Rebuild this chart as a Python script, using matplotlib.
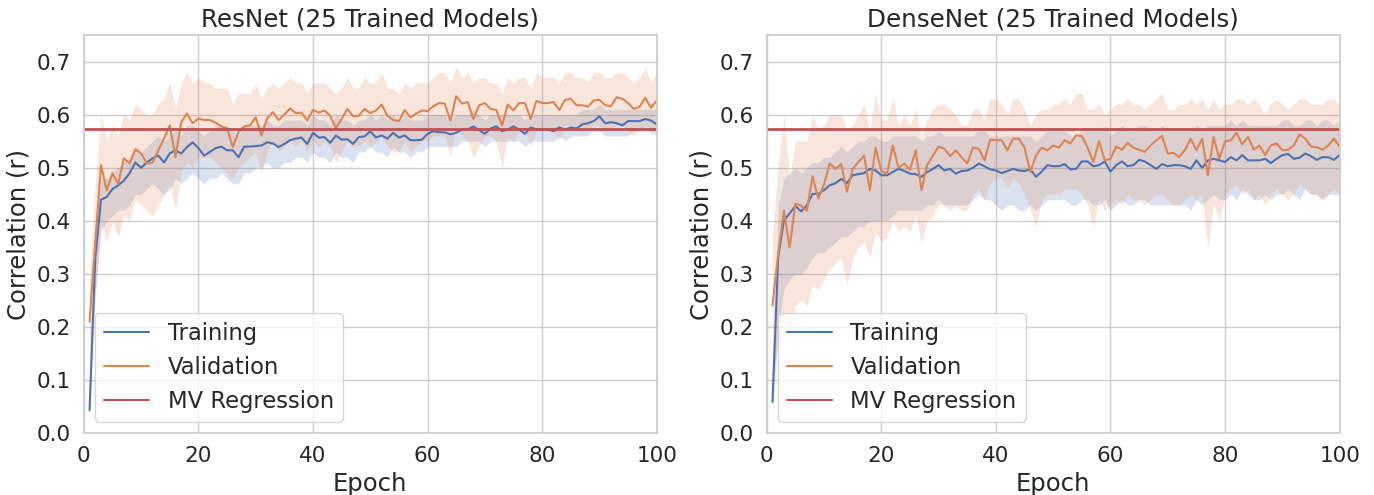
import matplotlib
matplotlib.use('Agg')
import matplotlib.pyplot as plt
import numpy as np
import seaborn as sns

epochs = list(range(1, 101))
mv_regression = 0.574

# ResNet
resnet_train = [0.043, 0.33, 0.44, 0.445, 0.46, 0.467, 0.476, 0.49, 0.51, 0.50,
                0.51, 0.518, 0.523, 0.51, 0.527, 0.533, 0.527, 0.539, 0.548, 0.537,
                0.523, 0.53, 0.537, 0.54, 0.533, 0.533, 0.52, 0.54, 0.54, 0.541,
                0.542, 0.548, 0.546, 0.539, 0.545, 0.552, 0.555, 0.557, 0.545, 0.566,
                0.557, 0.558, 0.547, 0.561, 0.553, 0.554, 0.545, 0.558, 0.559, 0.569,
                0.557, 0.561, 0.555, 0.566, 0.557, 0.561, 0.552, 0.552, 0.553, 0.564,
                0.569, 0.567, 0.567, 0.563, 0.566, 0.572, 0.572, 0.578, 0.571, 0.564,
                0.574, 0.578, 0.569, 0.572, 0.578, 0.572, 0.564, 0.576, 0.572, 0.572,
                0.572, 0.569, 0.576, 0.572, 0.576, 0.574, 0.582, 0.584, 0.588, 0.597,
                0.584, 0.586, 0.584, 0.58, 0.588, 0.588, 0.588, 0.592, 0.589, 0.582]
resnet_train_lo = [0.03, 0.27, 0.38, 0.40, 0.41, 0.42, 0.42, 0.43, 0.45, 0.45,
                   0.46, 0.47, 0.46, 0.45, 0.46, 0.48, 0.47, 0.48, 0.49, 0.48,
                   0.47, 0.48, 0.48, 0.49, 0.48, 0.47, 0.47, 0.49, 0.49, 0.50,
                   0.50, 0.51, 0.50, 0.50, 0.51, 0.51, 0.52, 0.52, 0.51, 0.53,
                   0.52, 0.52, 0.51, 0.53, 0.52, 0.52, 0.51, 0.53, 0.53, 0.54,
                   0.53, 0.53, 0.52, 0.54, 0.53, 0.53, 0.52, 0.53, 0.53, 0.54,
                   0.54, 0.54, 0.54, 0.54, 0.54, 0.55, 0.55, 0.55, 0.55, 0.54,
                   0.55, 0.55, 0.55, 0.55, 0.55, 0.55, 0.54, 0.55, 0.55, 0.55,
                   0.55, 0.55, 0.56, 0.55, 0.56, 0.56, 0.56, 0.56, 0.57, 0.57,
                   0.56, 0.56, 0.56, 0.56, 0.56, 0.57, 0.57, 0.57, 0.57, 0.56]
resnet_train_hi = [0.06, 0.38, 0.48, 0.48, 0.49, 0.50, 0.51, 0.52, 0.54, 0.53,
                   0.54, 0.55, 0.56, 0.55, 0.56, 0.57, 0.56, 0.58, 0.58, 0.57,
                   0.56, 0.57, 0.58, 0.58, 0.57, 0.57, 0.56, 0.58, 0.58, 0.58,
                   0.58, 0.59, 0.58, 0.58, 0.59, 0.59, 0.59, 0.59, 0.58, 0.60,
                   0.59, 0.59, 0.58, 0.60, 0.59, 0.59, 0.58, 0.59, 0.59, 0.60,
                   0.59, 0.60, 0.59, 0.60, 0.59, 0.60, 0.59, 0.59, 0.59, 0.60,
                   0.60, 0.60, 0.60, 0.59, 0.60, 0.60, 0.60, 0.61, 0.60, 0.59,
                   0.60, 0.60, 0.60, 0.60, 0.60, 0.60, 0.59, 0.60, 0.60, 0.60,
                   0.60, 0.60, 0.60, 0.60, 0.60, 0.60, 0.61, 0.61, 0.61, 0.62,
                   0.61, 0.61, 0.61, 0.61, 0.61, 0.61, 0.61, 0.61, 0.61, 0.61]
resnet_val = [0.21, 0.36, 0.505, 0.457, 0.49, 0.47, 0.518, 0.508, 0.535, 0.527,
              0.508, 0.51, 0.533, 0.555, 0.58, 0.52, 0.586, 0.602, 0.584, 0.593,
              0.59, 0.59, 0.585, 0.578, 0.575, 0.539, 0.567, 0.578, 0.58, 0.595,
              0.561, 0.593, 0.605, 0.59, 0.60, 0.612, 0.603, 0.604, 0.589, 0.609,
              0.604, 0.608, 0.598, 0.575, 0.592, 0.611, 0.597, 0.598, 0.611, 0.603,
              0.608, 0.619, 0.598, 0.59, 0.588, 0.609, 0.595, 0.602, 0.608, 0.607,
              0.616, 0.622, 0.621, 0.589, 0.635, 0.621, 0.624, 0.592, 0.618, 0.622,
              0.611, 0.609, 0.58, 0.619, 0.608, 0.622, 0.622, 0.592, 0.626, 0.622,
              0.622, 0.624, 0.609, 0.628, 0.63, 0.618, 0.618, 0.615, 0.627, 0.628,
              0.618, 0.616, 0.633, 0.63, 0.622, 0.611, 0.615, 0.632, 0.613, 0.627]
resnet_val_lo = [0.13, 0.25, 0.40, 0.36, 0.40, 0.37, 0.41, 0.40, 0.44, 0.43,
                 0.42, 0.41, 0.43, 0.45, 0.47, 0.42, 0.49, 0.51, 0.50, 0.52,
                 0.52, 0.52, 0.51, 0.50, 0.49, 0.48, 0.50, 0.51, 0.52, 0.53,
                 0.49, 0.53, 0.55, 0.53, 0.54, 0.55, 0.54, 0.55, 0.53, 0.55,
                 0.54, 0.55, 0.54, 0.51, 0.53, 0.55, 0.54, 0.54, 0.55, 0.54,
                 0.55, 0.56, 0.54, 0.53, 0.53, 0.55, 0.53, 0.54, 0.55, 0.55,
                 0.56, 0.56, 0.56, 0.52, 0.58, 0.56, 0.55, 0.52, 0.54, 0.56,
                 0.56, 0.55, 0.50, 0.56, 0.55, 0.57, 0.57, 0.54, 0.57, 0.57,
                 0.57, 0.57, 0.55, 0.58, 0.58, 0.57, 0.57, 0.57, 0.58, 0.58,
                 0.57, 0.57, 0.58, 0.58, 0.57, 0.56, 0.57, 0.58, 0.56, 0.58]
resnet_val_hi = [0.29, 0.47, 0.60, 0.55, 0.58, 0.56, 0.60, 0.59, 0.62, 0.61,
                 0.60, 0.60, 0.62, 0.63, 0.66, 0.61, 0.66, 0.68, 0.66, 0.67,
                 0.66, 0.66, 0.65, 0.65, 0.65, 0.62, 0.64, 0.64, 0.64, 0.66,
                 0.63, 0.65, 0.66, 0.65, 0.66, 0.67, 0.66, 0.66, 0.64, 0.66,
                 0.66, 0.66, 0.65, 0.64, 0.65, 0.67, 0.65, 0.65, 0.67, 0.66,
                 0.66, 0.68, 0.65, 0.65, 0.64, 0.66, 0.65, 0.66, 0.66, 0.66,
                 0.67, 0.68, 0.68, 0.66, 0.69, 0.67, 0.68, 0.66, 0.67, 0.67,
                 0.66, 0.66, 0.64, 0.67, 0.66, 0.67, 0.67, 0.65, 0.68, 0.67,
                 0.67, 0.67, 0.66, 0.68, 0.68, 0.67, 0.67, 0.66, 0.68, 0.68,
                 0.67, 0.67, 0.68, 0.68, 0.67, 0.66, 0.67, 0.69, 0.66, 0.68]

# DenseNet
densenet_train = [0.059, 0.332, 0.401, 0.414, 0.428, 0.418, 0.429, 0.451, 0.451, 0.458,
                  0.467, 0.471, 0.479, 0.471, 0.486, 0.488, 0.49, 0.498, 0.495, 0.486,
                  0.486, 0.492, 0.498, 0.494, 0.489, 0.488, 0.483, 0.492, 0.498, 0.505,
                  0.495, 0.498, 0.489, 0.494, 0.495, 0.5, 0.508, 0.503, 0.497, 0.495,
                  0.49, 0.494, 0.498, 0.495, 0.494, 0.497, 0.483, 0.493, 0.505, 0.503,
                  0.503, 0.507, 0.497, 0.498, 0.512, 0.512, 0.503, 0.505, 0.512, 0.493,
                  0.505, 0.512, 0.503, 0.505, 0.515, 0.512, 0.505, 0.498, 0.507, 0.503,
                  0.505, 0.505, 0.503, 0.498, 0.514, 0.5, 0.514, 0.517, 0.514, 0.511,
                  0.52, 0.514, 0.524, 0.514, 0.514, 0.514, 0.517, 0.509, 0.517, 0.524,
                  0.526, 0.517, 0.519, 0.527, 0.522, 0.515, 0.52, 0.52, 0.515, 0.524]
densenet_train_lo = [0.03, 0.20, 0.27, 0.29, 0.30, 0.30, 0.31, 0.33, 0.34, 0.34,
                     0.35, 0.36, 0.37, 0.37, 0.38, 0.39, 0.39, 0.40, 0.40, 0.40,
                     0.40, 0.41, 0.42, 0.42, 0.42, 0.42, 0.42, 0.43, 0.43, 0.44,
                     0.43, 0.43, 0.43, 0.43, 0.43, 0.44, 0.45, 0.44, 0.44, 0.43,
                     0.42, 0.43, 0.43, 0.42, 0.42, 0.43, 0.42, 0.43, 0.44, 0.44,
                     0.44, 0.44, 0.43, 0.43, 0.44, 0.44, 0.43, 0.43, 0.44, 0.42,
                     0.43, 0.44, 0.43, 0.43, 0.44, 0.44, 0.43, 0.43, 0.43, 0.43,
                     0.43, 0.43, 0.43, 0.42, 0.44, 0.43, 0.44, 0.45, 0.44, 0.44,
                     0.45, 0.44, 0.46, 0.45, 0.44, 0.44, 0.45, 0.44, 0.45, 0.45,
                     0.46, 0.45, 0.44, 0.46, 0.45, 0.45, 0.44, 0.45, 0.45, 0.45]
densenet_train_hi = [0.08, 0.43, 0.48, 0.49, 0.50, 0.49, 0.50, 0.51, 0.51, 0.52,
                     0.52, 0.53, 0.54, 0.53, 0.54, 0.55, 0.55, 0.56, 0.56, 0.55,
                     0.55, 0.56, 0.56, 0.56, 0.56, 0.56, 0.55, 0.56, 0.56, 0.57,
                     0.56, 0.56, 0.56, 0.56, 0.56, 0.56, 0.57, 0.57, 0.56, 0.56,
                     0.56, 0.56, 0.56, 0.56, 0.56, 0.56, 0.55, 0.56, 0.57, 0.57,
                     0.57, 0.57, 0.56, 0.56, 0.57, 0.57, 0.57, 0.57, 0.58, 0.56,
                     0.57, 0.58, 0.57, 0.57, 0.58, 0.58, 0.57, 0.57, 0.58, 0.57,
                     0.57, 0.57, 0.57, 0.57, 0.58, 0.57, 0.58, 0.58, 0.58, 0.58,
                     0.59, 0.58, 0.59, 0.58, 0.58, 0.58, 0.58, 0.58, 0.58, 0.59,
                     0.59, 0.58, 0.58, 0.59, 0.59, 0.58, 0.59, 0.59, 0.58, 0.59]
densenet_val = [0.241, 0.338, 0.419, 0.35, 0.432, 0.429, 0.419, 0.484, 0.442, 0.469,
                0.508, 0.498, 0.507, 0.455, 0.498, 0.511, 0.523, 0.458, 0.538, 0.494,
                0.489, 0.542, 0.5, 0.508, 0.496, 0.533, 0.458, 0.505, 0.523, 0.54,
                0.536, 0.522, 0.533, 0.52, 0.508, 0.538, 0.536, 0.514, 0.553, 0.552,
                0.552, 0.533, 0.555, 0.555, 0.538, 0.492, 0.523, 0.538, 0.533, 0.542,
                0.538, 0.552, 0.546, 0.561, 0.56, 0.538, 0.511, 0.55, 0.514, 0.517,
                0.54, 0.534, 0.547, 0.538, 0.534, 0.53, 0.542, 0.552, 0.56, 0.527,
                0.528, 0.52, 0.534, 0.555, 0.533, 0.555, 0.486, 0.558, 0.517, 0.55,
                0.552, 0.566, 0.544, 0.558, 0.534, 0.542, 0.524, 0.542, 0.546, 0.533,
                0.534, 0.542, 0.563, 0.555, 0.54, 0.539, 0.534, 0.542, 0.555, 0.54]
densenet_val_lo = [0.10, 0.17, 0.22, 0.19, 0.24, 0.25, 0.24, 0.28, 0.27, 0.29,
                   0.31, 0.32, 0.33, 0.28, 0.33, 0.35, 0.36, 0.33, 0.38, 0.36,
                   0.37, 0.40, 0.38, 0.39, 0.38, 0.41, 0.36, 0.40, 0.41, 0.43,
                   0.43, 0.42, 0.43, 0.42, 0.42, 0.45, 0.46, 0.44, 0.47, 0.48,
                   0.48, 0.46, 0.48, 0.47, 0.45, 0.42, 0.39, 0.44, 0.45, 0.45,
                   0.45, 0.46, 0.46, 0.46, 0.45, 0.43, 0.39, 0.44, 0.42, 0.43,
                   0.44, 0.43, 0.45, 0.44, 0.44, 0.43, 0.44, 0.45, 0.45, 0.44,
                   0.43, 0.43, 0.44, 0.45, 0.44, 0.45, 0.35, 0.43, 0.40, 0.45,
                   0.46, 0.47, 0.45, 0.46, 0.44, 0.45, 0.43, 0.45, 0.46, 0.45,
                   0.44, 0.45, 0.47, 0.46, 0.45, 0.45, 0.44, 0.45, 0.46, 0.45]
densenet_val_hi = [0.38, 0.50, 0.60, 0.48, 0.55, 0.55, 0.55, 0.60, 0.57, 0.58,
                   0.60, 0.60, 0.60, 0.57, 0.58, 0.60, 0.62, 0.57, 0.64, 0.59,
                   0.59, 0.63, 0.58, 0.60, 0.58, 0.61, 0.56, 0.59, 0.61, 0.62,
                   0.62, 0.61, 0.60, 0.58, 0.58, 0.61, 0.61, 0.59, 0.63, 0.63,
                   0.62, 0.60, 0.63, 0.63, 0.61, 0.58, 0.60, 0.61, 0.61, 0.62,
                   0.62, 0.63, 0.62, 0.64, 0.64, 0.61, 0.61, 0.62, 0.60, 0.61,
                   0.62, 0.62, 0.63, 0.62, 0.62, 0.61, 0.62, 0.63, 0.64, 0.61,
                   0.61, 0.62, 0.62, 0.63, 0.62, 0.63, 0.61, 0.63, 0.61, 0.62,
                   0.62, 0.63, 0.63, 0.62, 0.63, 0.62, 0.60, 0.62, 0.63, 0.62,
                   0.61, 0.62, 0.63, 0.63, 0.62, 0.62, 0.62, 0.63, 0.63, 0.62]

sns.set_theme(style='whitegrid')
colors = sns.color_palette('deep')


def plotPanel(ax, title, train, train_lo, train_hi, val, val_lo, val_hi):
    ax.plot(epochs, train, color=colors[0], lw=1.5, label='Training')
    ax.fill_between(epochs, train_lo, train_hi, color=colors[0], alpha=0.2, lw=0)
    ax.plot(epochs, val, color=colors[1], lw=1.5, label='Validation')
    ax.fill_between(epochs, val_lo, val_hi, color=colors[1], alpha=0.2, lw=0)
    ax.axhline(mv_regression, color=colors[3], lw=2, label='MV Regression')
    ax.set_xlim(0, 100)
    ax.set_ylim(0, 0.75)
    ax.set_yticks(np.arange(0, 0.75, 0.1))
    ax.set_title(title, fontsize=17.7)
    ax.set_xlabel('Epoch', fontsize=17.5)
    ax.set_ylabel('Correlation (r)', fontsize=17.5)
    ax.tick_params(labelsize=15.5)
    leg = ax.legend(loc='lower left', fontsize=16.3, labelspacing=0.48)
    for line in leg.get_lines():
        line.set_linewidth(1.5)


fig, axes = plt.subplots(1, 2, figsize=(13.74, 4.95), dpi=100)
fig.subplots_adjust(left=0.061, right=0.975, bottom=0.125, top=0.929, wspace=0.192)
plotPanel(axes[0], 'ResNet (25 Trained Models)', resnet_train, resnet_train_lo,
          resnet_train_hi, resnet_val, resnet_val_lo, resnet_val_hi)
plotPanel(axes[1], 'DenseNet (25 Trained Models)', densenet_train, densenet_train_lo,
          densenet_train_hi, densenet_val, densenet_val_lo, densenet_val_hi)
plt.savefig('out.png')
